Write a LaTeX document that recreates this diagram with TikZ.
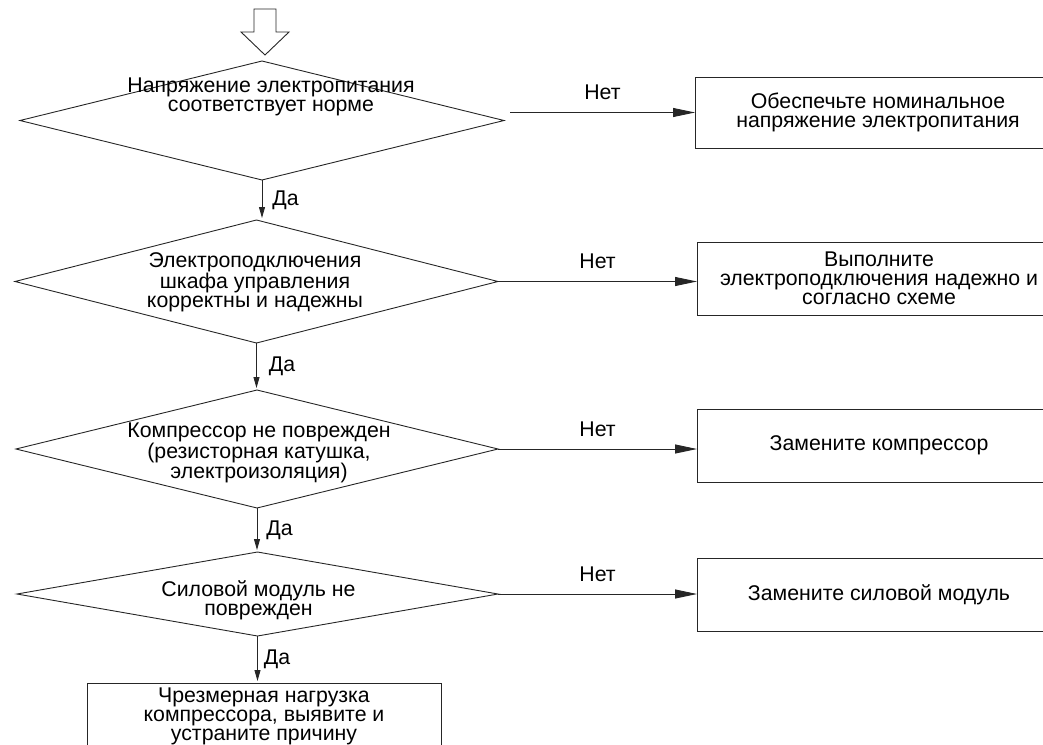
\documentclass[tikz,border=0pt]{standalone}
\usepackage{fontspec}
\setmainfont{Liberation Sans}
\usetikzlibrary{shapes.geometric,arrows.meta,calc}
\newcommand\mainfs{\fontsize{21.3}{19}\selectfont}
\begin{document}
\begin{tikzpicture}[x=1pt,y=-1pt,
  line/.style={draw=black!85, line width=0.9pt},
  dec/.style={diamond, draw=black!85, line width=0.9pt, inner sep=0pt, outer sep=0pt},
  box/.style={rectangle, draw=black!85, line width=0.9pt, inner sep=0pt, outer sep=0pt, align=center, font=\mainfs},
  txt/.style={align=center, inner sep=0pt, font=\mainfs},
  harrow/.style={line, -{Triangle[length=22pt,width=9pt]}},
  varrow/.style={line, shorten >=2pt, -{Triangle[length=11pt,width=6pt]}},
  lbl/.style={inner sep=0pt, font=\mainfs}]
\useasboundingbox (0,0) rectangle (1043,744);
\clip (0,0) rectangle (1043,744);

% hollow entry arrow
\draw[line, line join=miter] (254,9) -- (276,9) -- (276,32) -- (289,32) -- (265,55) -- (241,32) -- (254,32) -- cycle;

% decisions
\node[dec, minimum width=484pt, minimum height=119pt] (d1) at (262,120.5) {};
\node[txt] (t1) at (271,97) {Напряжение электропитания\\соответствует норме};
\node[dec, minimum width=483pt, minimum height=123pt] (d2) at (256.5,281.5) {};
\node[txt] (t2) at (255,282) {Электроподключения\\шкафа управления\\корректны и надежны};
\node[dec, minimum width=482pt, minimum height=118pt] (d3) at (257,449) {};
\node[txt] (t3) at (259,453) {Компрессор не поврежден\\(резисторная катушка,\\электроизоляция)};
\node[dec, minimum width=481pt, minimum height=84pt] (d4) at (257.5,594) {};
\node[txt] (t4) at (258.5,600) {Силовой модуль не\\поврежден};

% action boxes
\node[box, minimum width=366pt, minimum height=71pt] (b1) at (878,112.5) {Обеспечьте номинальное\\напряжение электропитания};
\node[box, minimum width=364pt, minimum height=73pt] (b2) at (879,278.5) {Выполните\\электроподключения надежно и\\согласно схеме};
\node[box, minimum width=364pt, minimum height=73pt] (b3) at (879,445.5) {Замените компрессор};
\node[box, minimum width=364pt, minimum height=73pt] (b4) at (879,594.5) {Замените силовой модуль};
\node[box, minimum width=354pt, minimum height=66pt] (b5) at (264,716) {Чрезмерная нагрузка\\компрессора, выявите и\\устраните причину};

% "no" branches
\draw[harrow] ($(d1.east |- b1.west)+(6,0)$) -- (b1.west) node[lbl, midway, above=12pt] {Нет};
\draw[harrow] (d2.east) -- (d2.east -| b2.west) node[lbl, midway, above=12pt] {Нет};
\draw[harrow] (d3.east) -- (d3.east -| b3.west) node[lbl, midway, above=12pt] {Нет};
\draw[harrow] (d4.east) -- (d4.east -| b4.west) node[lbl, midway, above=12pt] {Нет};

% "yes" branches
\draw[varrow] (d1.south) -- (d1.south |- d2.north) node[lbl, midway, right=10pt] {Да};
\draw[varrow] (d2.south) -- (d2.south |- d3.north) node[lbl, midway, right=12pt] {Да};
\draw[varrow] (d3.south) -- (d3.south |- d4.north) node[lbl, midway, right=9pt] {Да};
\draw[varrow] (d4.south) -- (d4.south |- b5.north) node[lbl, midway, right=6pt] {Да};
\end{tikzpicture}
\end{document}
